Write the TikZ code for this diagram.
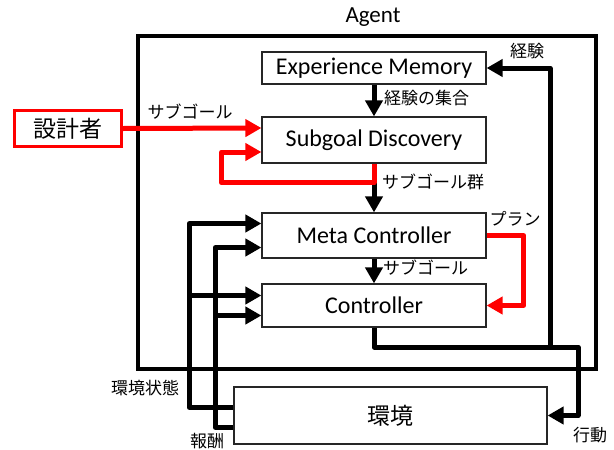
\documentclass[tikz,border=0pt]{standalone}
\usepackage{fontspec}
\setmainfont{Carlito}
\newfontfamily\jp{Noto Sans CJK JP}
\usetikzlibrary{arrows.meta, positioning}

\begin{document}
\begin{tikzpicture}[x=1pt, y=-1pt,
	blk/.style={draw=black!85, line width=1.2pt, inner sep=0pt, minimum width=224pt, font=\fontsize{24}{26}\selectfont},
	lbl/.style={inner sep=0pt, font=\jp\fontsize{17}{19}\selectfont},
	arr/.style={line width=5pt, line join=round, -{Triangle[length=16pt, width=17pt]}},
	redarr/.style={arr, red}
]
\useasboundingbox (0,0) rectangle (614,450);
% agent frame
\node[draw, line width=4pt, minimum width=458pt, minimum height=333pt] (agent) at (367,202.5) {};
\node[font=\fontsize{23}{25}\selectfont] (agentlbl) at (373,17) {Agent};

% boxes
\node[blk, minimum height=32pt] (mem) at (374,68) {Experience Memory};
\node[blk, minimum height=46pt] (sub) at (374,140) {Subgoal Discovery};
\node[blk, minimum height=45pt] (meta) at (374,235.5) {Meta Controller};
\node[blk, minimum height=43pt] (ctrl) at (374,305.5) {Controller};
\node[blk, minimum width=313pt, minimum height=57pt, font=\jp\fontsize{23}{25}\selectfont] (env) at (390.5,415.5) {環境};
\node[blk, draw=red, line width=3pt, minimum width=107pt, minimum height=36pt, font=\jp\fontsize{23}{25}\selectfont] (des) at (68,128.5) {設計者};

\coordinate (act) at (578,347);
\coordinate (exp) at (550,347);

% black connectors
\draw[arr] (mem.south) -- (sub.north);
\draw[arr] (sub.south) -- (meta.north);
\draw[arr] (meta.south) -- (ctrl.north);
\draw[arr] (ctrl.south) |- (act) |- (env.east);
\draw[arr] (exp) |- (mem.east);
\draw[arr] ([yshift=8pt]env.west) -| ([xshift=-72pt, yshift=12pt]meta.west) -- ([yshift=12pt]meta.west);
\draw[arr] ([xshift=-72pt, yshift=10pt]ctrl.west) -- ([yshift=10pt]ctrl.west);
\draw[arr] ([yshift=-12pt]env.west) -| ([xshift=-46pt, yshift=-12pt]meta.west) -- ([yshift=-12pt]meta.west);
\draw[arr] ([xshift=-46pt, yshift=-10pt]ctrl.west) -- ([yshift=-10pt]ctrl.west);

% red connectors
\draw[redarr] (des.east) -- ([yshift=12pt]sub.west);
\draw[redarr] (sub.south) -- ++(0,19) -| ([xshift=-40pt, yshift=-12pt]sub.west) -- ([yshift=-12pt]sub.west);
\draw[redarr] (meta.east) -- ++(37,0) |- (ctrl.east);

% labels
\node[lbl] (explbl) at (527,51) {経験};
\node[lbl, anchor=west] (setlbl) at (384,98) {経験の集合};
\node[lbl] (goallbl) at (190,112) {サブゴール};
\node[lbl, anchor=west] (goalslbl) at (382,182) {サブゴール群};
\node[lbl] (planlbl) at (515,219) {プラン};
\node[lbl, anchor=west] (goal2lbl) at (383,268) {サブゴール};
\node[lbl] (statelbl) at (145,388) {環境状態};
\node[lbl] (rewlbl) at (207,441) {報酬};
\node[lbl] (actlbl) at (590,435) {行動};
\end{tikzpicture}
\end{document}
